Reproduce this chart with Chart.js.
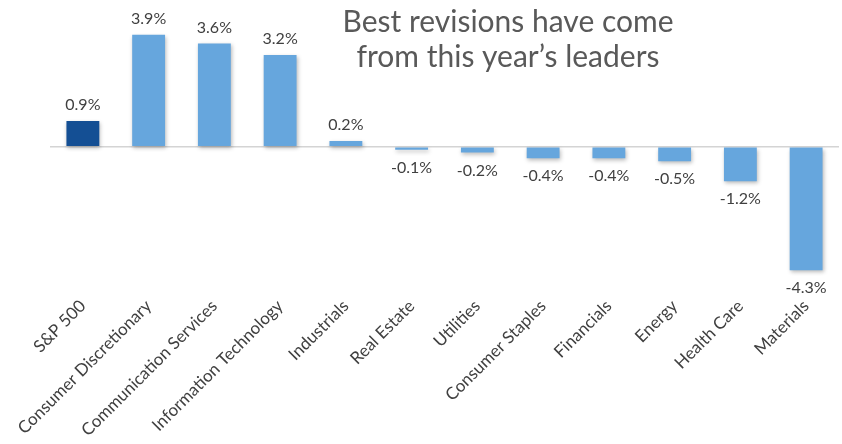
<!DOCTYPE html>
<html>
<head>
<meta charset="utf-8">
<script src="https://cdn.jsdelivr.net/npm/chart.js@4.4.1/dist/chart.umd.min.js"></script>
<style>
  html, body { margin: 0; padding: 0; background: #fff; }
  #wrap { width: 842px; height: 444px; position: relative; }
</style>
</head>
<body>
<div id="wrap"><canvas id="revChart"></canvas></div>
<script>
// 行业与数值
const sectors = ['S&P 500', 'Consumer Discretionary', 'Communication Services', 'Information Technology',
  'Industrials', 'Real Estate', 'Utilities', 'Consumer Staples', 'Financials', 'Energy', 'Health Care', 'Materials'];
const revisions = [0.9, 3.9, 3.6, 3.2, 0.2, -0.1, -0.2, -0.4, -0.4, -0.5, -1.2, -4.3];
const titleLines = ['Best revisions have come', 'from this year\u2019s leaders'];

const FONT = 'Lato, "Open Sans", sans-serif';

// 柱子渐变
function barFill(ctx) {
  const el = ctx.element;
  const chart = ctx.chart;
  if (ctx.dataIndex === 0) return '#144f94';
  if (!el || !chart.chartArea || el.y === undefined) return '#66a6dd';
  const top = Math.min(el.y, el.base);
  const bot = Math.max(el.y, el.base);
  if (!isFinite(top) || !isFinite(bot) || bot - top < 1) return '#66a6dd';
  const g = chart.ctx.createLinearGradient(0, top, 0, bot);
  g.addColorStop(0, '#76b2e5');
  g.addColorStop(1, '#5798d4');
  return g;
}

// 数值标签 + 标题 + 阴影
const labelPlugin = {
  id: 'valueLabels',
  beforeDatasetDraw(chart) {
    const c = chart.ctx;
    c.save();
    c.shadowColor = 'rgba(0,0,0,0.28)';
    c.shadowBlur = 4;
    c.shadowOffsetX = 1;
    c.shadowOffsetY = 2;
  },
  afterDatasetDraw(chart) {
    chart.ctx.restore();
  },
  afterDraw(chart) {
    const c = chart.ctx;
    const meta = chart.getDatasetMeta(0);
    c.save();
    c.fillStyle = '#404040';
    c.font = '16px ' + FONT;
    c.textAlign = 'center';
    meta.data.forEach((bar, i) => {
      const v = revisions[i];
      const txt = v.toFixed(1) + '%';
      if (v >= 0) {
        c.textBaseline = 'bottom';
        c.fillText(txt, bar.x, bar.y - 8);
      } else {
        c.textBaseline = 'top';
        c.fillText(txt, bar.x, bar.y + 10);
      }
    });
    c.fillStyle = '#595959';
    c.font = '30px ' + FONT;
    c.textBaseline = 'middle';
    c.fillText(titleLines[0], 508, 22);
    c.fillText(titleLines[1], 508, 57);
    c.restore();
  }
};

new Chart(document.getElementById('revChart'), {
  type: 'bar',
  data: {
    labels: sectors,
    datasets: [{
      data: revisions,
      backgroundColor: barFill,
      borderWidth: 0,
      categoryPercentage: 1,
      barPercentage: 0.5
    }]
  },
  options: {
    responsive: true,
    maintainAspectRatio: false,
    animation: false,
    layout: { padding: { top: 32, left: 50, right: 3, bottom: 0 } },
    plugins: { legend: { display: false }, tooltip: { enabled: false } },
    scales: {
      y: {
        min: -4.5,
        max: 4,
        display: true,
        border: { display: false },
        ticks: { display: false },
        grid: {
          drawTicks: false,
          lineWidth: 1.5,
          color: (ctx) => ctx.tick && ctx.tick.value === 0 ? '#d4d4d4' : 'rgba(0,0,0,0)'
        },
        afterFit(scale) { scale.width = 0; }
      },
      x: {
        border: { display: false },
        grid: { display: false },
        ticks: {
          autoSkip: false,
          maxRotation: 45,
          minRotation: 45,
          color: '#404040',
          font: { family: FONT, size: 17 },
          padding: 12
        },
        afterFit(scale) { scale.height = 168; }
      }
    }
  },
  plugins: [labelPlugin]
});
</script>
</body>
</html>
